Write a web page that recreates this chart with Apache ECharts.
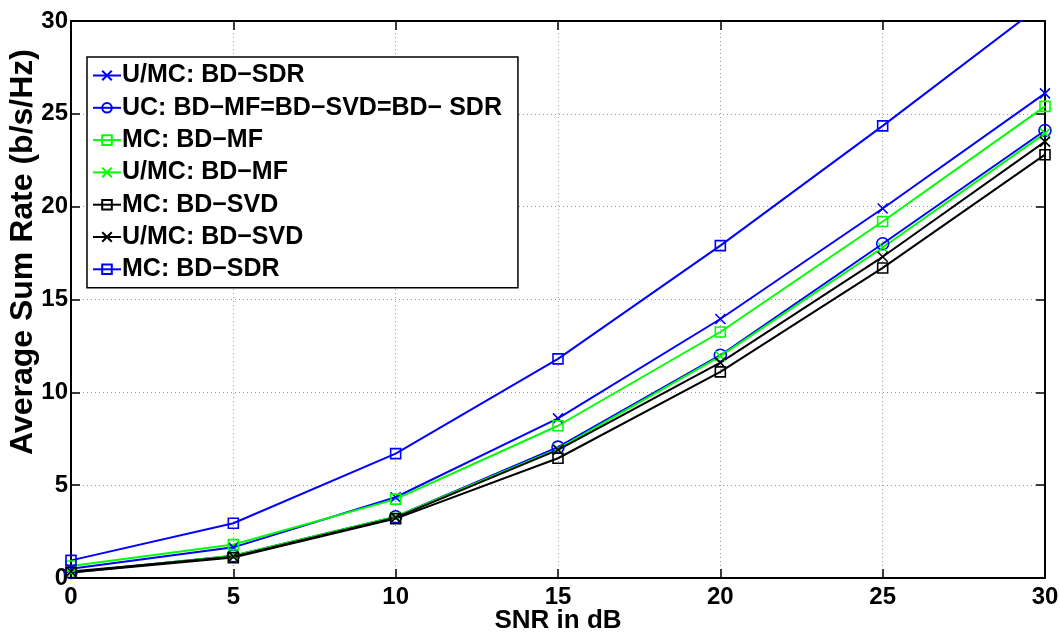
<!DOCTYPE html>
<html><head><meta charset="utf-8">
<script src="https://cdn.jsdelivr.net/npm/echarts@6/dist/echarts.min.js"></script>
<style>html,body{margin:0;padding:0;background:#fff}#c{width:1060px;height:632px}</style>
</head><body><div id="c"></div>
<script>
var snr = [0, 5, 10, 15, 20, 25, 30];
var umcSDR = [0.5, 1.65, 4.35, 8.6, 13.95, 19.9, 26.1];
var ucAll  = [0.3, 1.2, 3.3, 7.05, 12.0, 18.0, 24.1];
var mcMF   = [0.65, 1.8, 4.25, 8.2, 13.25, 19.2, 25.4];
var umcMF  = [0.3, 1.2, 3.3, 6.95, 11.95, 17.8, 23.95];
var mcSVD  = [0.3, 1.1, 3.2, 6.45, 11.1, 16.7, 22.8];
var umcSVD = [0.35, 1.15, 3.25, 6.9, 11.6, 17.3, 23.5];
var mcSDR  = [0.95, 2.95, 6.7, 11.8, 17.9, 24.35, 31.0];
var names = ['U/MC: BD\u2212SDR', 'UC: BD\u2212MF=BD\u2212SVD=BD\u2212 SDR', 'MC: BD\u2212MF', 'U/MC: BD\u2212MF', 'MC: BD\u2212SVD', 'U/MC: BD\u2212SVD', 'MC: BD\u2212SDR'];
var yTicks = [0, 5, 10, 15, 20, 25, 30];
var yTitle = 'Average Sum Rate (b/s/Hz)';

var X = 'path://M0,0L10,10M10,0L0,10';
var defs = [
  [umcSDR, '#0000ff', X],
  [ucAll, '#0000ff', 'circle'],
  [mcMF, '#00ff00', 'rect'],
  [umcMF, '#00ff00', X],
  [mcSVD, '#000000', 'rect'],
  [umcSVD, '#000000', X],
  [mcSDR, '#0000ff', 'rect']
];
var series = defs.map(function (d, i) {
  return {
    name: names[i], type: 'line', data: d[0].map(function (v, k) { return [snr[k], v]; }),
    symbol: d[2], symbolSize: d[2] === 'circle' ? 12 : 10, showSymbol: true, clip: true,
    lineStyle: { color: d[1], width: 2 },
    itemStyle: { color: 'rgba(0,0,0,0)', borderColor: d[1], borderWidth: 1.6 },
    emphasis: { disabled: true }, animation: false
  };
});
var font = { fontFamily: 'Liberation Sans', fontWeight: 'bold', color: '#000' };
var chart = echarts.init(document.getElementById('c'));
chart.setOption({
  animation: false,
  grid: { left: 71, right: 15, top: 21, bottom: 54, show: false, containLabel: false, outerBoundsMode: 'none' },
  graphic: [{
    type: 'text', x: 23, y: 252, rotation: Math.PI / 2, silent: true,
    style: { text: yTitle, fontSize: 32, fontFamily: 'Liberation Sans', fontWeight: 'bold', fill: '#000', align: 'center', verticalAlign: 'middle' }
  }],
  legend: {
    orient: 'vertical', left: 87, top: 57, data: names,
    backgroundColor: '#fff', borderColor: '#000', borderWidth: 1.5, borderRadius: 0,
    padding: [6, 16, 6, 5], itemGap: 7.3, itemWidth: 28, itemHeight: 12,
    textStyle: Object.assign({ fontSize: 25, lineHeight: 25, padding: [0, 0, 0, -4] }, font)
  },
  xAxis: [{
    type: 'value', min: 0, max: 30, interval: 5,
    name: 'SNR in dB', nameLocation: 'middle', nameGap: 30, nameMoveOverlap: false,
    nameTextStyle: Object.assign({ fontSize: 26 }, font),
    axisLine: { show: true, onZero: false, lineStyle: { color: '#000', width: 2 } },
    axisTick: { show: true, inside: true, length: 9, lineStyle: { color: '#000', width: 1.5 } },
    axisLabel: Object.assign({ fontSize: 24, margin: 7 }, font),
    splitLine: { show: true, lineStyle: { color: '#999', type: [1, 3], width: 1 } }
  }, {
    type: 'value', min: 0, max: 30, interval: 5, position: 'top',
    axisLine: { show: true, onZero: false, lineStyle: { color: '#000', width: 2 } },
    axisTick: { show: true, inside: true, length: 9, lineStyle: { color: '#000', width: 1.5 } },
    axisLabel: { show: false }, splitLine: { show: false }
  }],
  yAxis: [{
    type: 'value', min: 0, max: 30, interval: 5,
    axisLine: { show: true, onZero: false, lineStyle: { color: '#000', width: 2 } },
    axisTick: { show: true, inside: true, length: 9, lineStyle: { color: '#000', width: 1.5 } },
    axisLabel: Object.assign({ fontSize: 24, margin: 3, formatter: function (v) { return yTicks.indexOf(v) >= 0 ? String(v) : ''; } }, font),
    splitLine: { show: true, lineStyle: { color: '#999', type: [1, 3], width: 1 } }
  }, {
    type: 'value', min: 0, max: 30, interval: 5, position: 'right',
    axisLine: { show: true, onZero: false, lineStyle: { color: '#000', width: 2 } },
    axisTick: { show: true, inside: true, length: 9, lineStyle: { color: '#000', width: 1.5 } },
    axisLabel: { show: false }, splitLine: { show: false }
  }],
  series: series
});
</script></body></html>
